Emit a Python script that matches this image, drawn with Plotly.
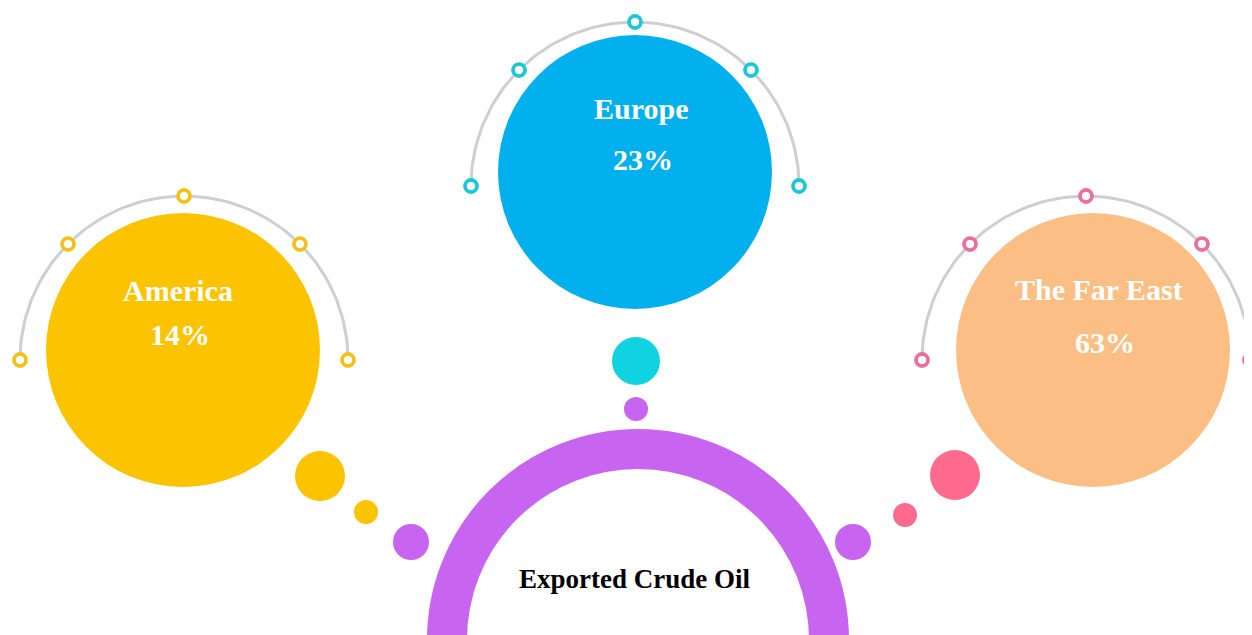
"""
Exported crude oil infographic
Bubble layout drawn with Plotly shapes and scatter traces
"""

import numpy as np
import plotly.graph_objects as go

# Data
regions = ['America', 'Europe', 'The Far East']
shares = [14, 23, 63]
title_text = 'Exported Crude Oil'

# Styling per region
fill_colors = ['#FCC400', '#03B0EE', '#FBBF85']
accent_colors = ['#F2C21A', '#1DC8D3', '#E8709A']
dot_colors = ['#FCC400', '#11D2E0', '#FD6A8E']

# Layout (pixel-like canvas); page body has an 8px margin
W, H = 1252, 635
PAD = 8
bubble_centers = [(183, 350), (635, 172), (1093, 350)]
bubble_r = 137
arc_centers = [(184, 360), (635, 186), (1086, 360)]
arc_r = 164
PURPLE = '#C764F0'
GRAY = '#CFCFCF'
SERIF = 'Liberation Serif'

fig = go.Figure()

# big bubbles
for (cx, cy), col in zip(bubble_centers, fill_colors):
    fig.add_shape(type='circle', xref='x', yref='y',
                  x0=cx - bubble_r, x1=cx + bubble_r, y0=cy - bubble_r, y1=cy + bubble_r,
                  fillcolor=col, line=dict(width=0), layer='below')

# gray arcs with ring markers
theta = np.linspace(0, np.pi, 120)
for (ax, ay), col in zip(arc_centers, accent_colors):
    fig.add_trace(go.Scatter(
        x=ax + arc_r * np.cos(theta), y=ay - arc_r * np.sin(theta),
        mode='lines', line=dict(color=GRAY, width=3), hoverinfo='skip'
    ))
    ang = np.radians([0, 45, 90, 135, 180])
    fig.add_trace(go.Scatter(
        x=ax + arc_r * np.cos(ang), y=ay - arc_r * np.sin(ang),
        mode='markers',
        marker=dict(size=12, color='white', line=dict(color=col, width=3.8)),
        hoverinfo='skip', cliponaxis=False
    ))

# central purple ring
ring_c = (638, 640)
ring_r = 191
fig.add_shape(type='circle', xref='x', yref='y',
              x0=ring_c[0] - ring_r, x1=ring_c[0] + ring_r,
              y0=ring_c[1] - ring_r, y1=ring_c[1] + ring_r,
              line=dict(color=PURPLE, width=40), fillcolor='rgba(0,0,0,0)')

# connector dots
dots = [
    (320, 476, 25, dot_colors[0]), (366, 512, 12, dot_colors[0]), (411, 542, 18, PURPLE),
    (636, 361, 24, dot_colors[1]), (636, 409, 12, PURPLE),
    (955, 475, 25, dot_colors[2]), (905, 515, 12, dot_colors[2]), (853, 542, 18, PURPLE),
]
for x, y, r, col in dots:
    fig.add_shape(type='circle', xref='x', yref='y',
                  x0=x - r, x1=x + r, y0=y - r, y1=y + r,
                  fillcolor=col, line=dict(width=0))

# labels
label_pos = [((178, 290), (180, 334)), ((641, 108), (643, 159)), ((1099, 289), (1105, 342))]
for name, share, (npos, spos) in zip(regions, shares, label_pos):
    fig.add_annotation(x=npos[0], y=npos[1], text=f'<b>{name}</b>', showarrow=False,
                       font=dict(family=SERIF, size=30, color='white'))
    fig.add_annotation(x=spos[0], y=spos[1], text=f'<b>{share}%</b>', showarrow=False,
                       font=dict(family=SERIF, size=30, color='white'))

fig.add_annotation(x=635, y=579, text=f'<b>{title_text}</b>', showarrow=False,
                   font=dict(family=SERIF, size=27, color='black'))

fig.update_layout(
    width=W, height=H,
    margin=dict(l=0, r=0, t=0, b=0),
    plot_bgcolor='white', paper_bgcolor='white',
    showlegend=False,
    xaxis=dict(range=[PAD, W + PAD], visible=False, fixedrange=True),
    yaxis=dict(range=[H + PAD, PAD], visible=False, fixedrange=True),
)

fig.write_html('out.html')
